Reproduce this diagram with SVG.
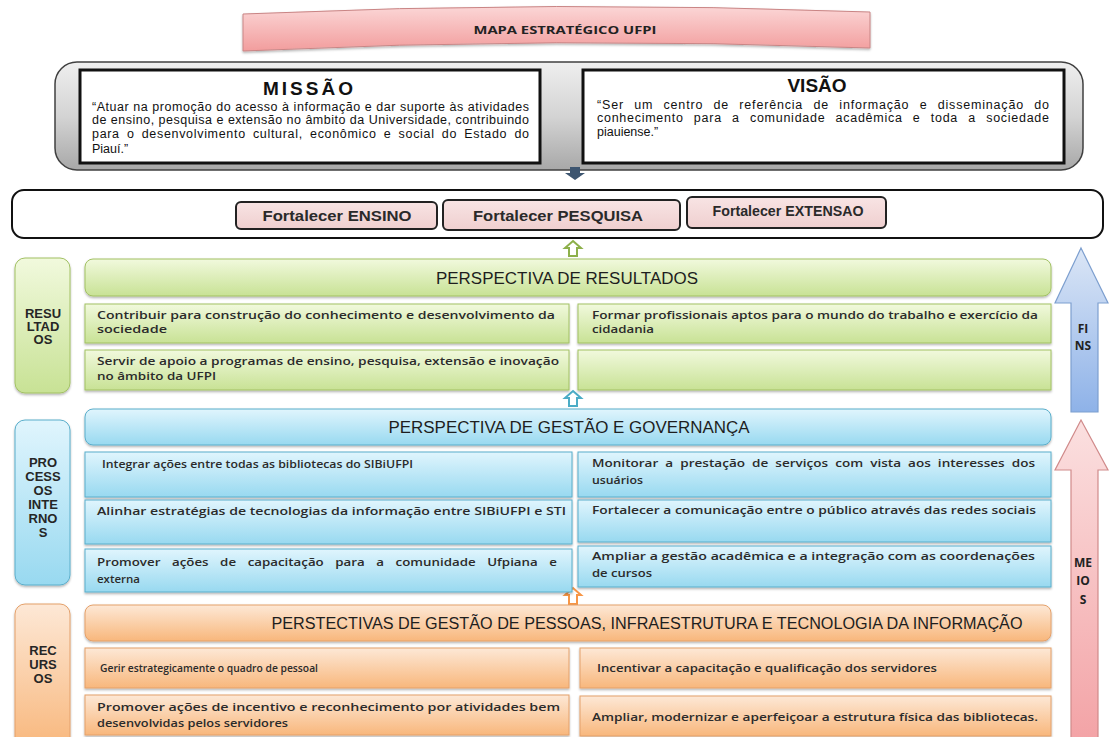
<svg xmlns="http://www.w3.org/2000/svg" width="1109" height="737" viewBox="0 0 1109 737">
<defs>
<linearGradient id="gPink" x1="0" y1="0" x2="0" y2="1"><stop offset="0" stop-color="#fbd6d6"/><stop offset="1" stop-color="#f29d9d"/></linearGradient>
<linearGradient id="gGray" x1="0" y1="0" x2="0" y2="1"><stop offset="0" stop-color="#efefef"/><stop offset="0.5" stop-color="#d4d4d4"/><stop offset="1" stop-color="#a8a8a8"/></linearGradient>
<linearGradient id="gGreen" x1="0" y1="0" x2="0" y2="1"><stop offset="0" stop-color="#f1f9dd"/><stop offset="1" stop-color="#c8e295"/></linearGradient>
<linearGradient id="gBlue" x1="0" y1="0" x2="0" y2="1"><stop offset="0" stop-color="#e0f5fd"/><stop offset="1" stop-color="#98d9f0"/></linearGradient>
<linearGradient id="gOrange" x1="0" y1="0" x2="0" y2="1"><stop offset="0" stop-color="#fde8d6"/><stop offset="1" stop-color="#f8b77c"/></linearGradient>
<linearGradient id="gBtn" x1="0" y1="0" x2="0" y2="1"><stop offset="0" stop-color="#f8e4e4"/><stop offset="1" stop-color="#efcfcf"/></linearGradient>
<linearGradient id="gFins" x1="0" y1="0" x2="0" y2="1"><stop offset="0" stop-color="#dbe6f6"/><stop offset="1" stop-color="#8eb2e8"/></linearGradient>
<linearGradient id="gMeios" x1="0" y1="0" x2="0" y2="1"><stop offset="0" stop-color="#fbe0e0"/><stop offset="1" stop-color="#f3a3a6"/></linearGradient>
<filter id="sh" x="-5%" y="-10%" width="110%" height="130%"><feDropShadow dx="0" dy="1.5" stdDeviation="1" flood-color="#000" flood-opacity="0.3"/></filter>
</defs>
<style>
.g{fill:url(#gGreen);stroke:#a2c163;stroke-width:1}
.b{fill:url(#gBlue);stroke:#5aaecb;stroke-width:1}
.o{fill:url(#gOrange);stroke:#e4a06a;stroke-width:1}
.t{font-family:"Open Sans","Liberation Sans",sans-serif;font-size:11.5px;font-weight:600;fill:#2b2b2b}
.s{font-size:10.5px}
.h{font-family:"Liberation Sans",Arial,sans-serif;font-size:16px;fill:#1e1e1e;text-anchor:middle}
.lab{font-family:"Liberation Sans",Arial,sans-serif;font-size:13px;font-weight:bold;fill:#262626;text-anchor:middle}
.m{font-family:"Liberation Sans",Arial,sans-serif;font-size:12.5px;fill:#111}
.mh{font-family:"Liberation Sans",Arial,sans-serif;font-size:19px;font-weight:bold;fill:#111;text-anchor:middle}
.btn{fill:url(#gBtn);stroke:#222;stroke-width:2}
.bt{font-family:"Liberation Sans",Arial,sans-serif;font-size:14px;font-weight:bold;fill:#2a2a2a;text-anchor:middle}
.ar{font-family:"Open Sans","Liberation Sans",sans-serif;font-size:12px;font-weight:700;fill:#222;text-anchor:middle}
</style>

<g id="title">
<path d="M243,14 Q556,0 870,12 L870,48 Q556,36 243,51 Z" fill="url(#gPink)" stroke="#c98585" stroke-width="1" filter="url(#sh)"/>
<text x="565" y="34" text-anchor="middle" font-family="'Open Sans','Liberation Sans',sans-serif" font-size="11" font-weight="700" fill="#222" textLength="183" lengthAdjust="spacingAndGlyphs">MAPA ESTRATÉGICO  UFPI</text>
</g>

<g id="missao-visao">
<rect x="55" y="62" width="1028" height="108" rx="22" fill="url(#gGray)" stroke="#404040" stroke-width="1.5"/>
</g>

<g id="missao">
<rect x="80" y="70" width="460" height="93" fill="#fff" stroke="#111" stroke-width="3"/>
<text class="mh" x="308" y="95" textLength="90" lengthAdjust="spacing">MISSÃO</text>
<text class="m" x="92" y="111" textLength="437" lengthAdjust="spacing">“Atuar na promoção do acesso à informação e dar suporte às atividades</text>
<text class="m" x="92" y="124" textLength="437" lengthAdjust="spacing">de ensino, pesquisa e extensão no âmbito da Universidade, contribuindo</text>
<text class="m" x="92" y="138" word-spacing="3" textLength="437" lengthAdjust="spacing">para o desenvolvimento cultural, econômico e social do Estado do</text>
<text class="m" x="92" y="153">Piauí.”</text>
</g>

<g id="visao">
<rect x="583" y="70" width="481" height="93" fill="#fff" stroke="#111" stroke-width="3"/>
<text class="mh" x="817" y="92">VISÃO</text>
<text class="m" x="597" y="109" word-spacing="6" textLength="452" lengthAdjust="spacing">“Ser um centro de referência de informação e disseminação do</text>
<text class="m" x="597" y="122" word-spacing="6" textLength="452" lengthAdjust="spacing">conhecimento para a comunidade acadêmica e toda a sociedade</text>
<text class="m" x="597" y="136">piauiense.”</text>
</g>

<g id="fortalecer">
<rect x="12" y="190" width="1091" height="48" rx="12" fill="#fff" stroke="#111" stroke-width="2"/>
</g>
<g id="ensino">
<rect class="btn" x="236" y="202" width="201" height="27" rx="5"/>
<text class="bt" x="337" y="221" textLength="149" lengthAdjust="spacingAndGlyphs">Fortalecer ENSINO</text>
</g>
<g id="pesquisa">
<rect class="btn" x="443" y="200" width="237" height="30" rx="5"/>
<text class="bt" x="558" y="221" textLength="170" lengthAdjust="spacingAndGlyphs">Fortalecer PESQUISA</text>
</g>
<g id="extensao">
<rect class="btn" x="687" y="197" width="199" height="31" rx="5"/>
<text class="bt" x="788" y="216" textLength="151" lengthAdjust="spacingAndGlyphs">Fortalecer EXTENSAO</text>
</g>

<g id="connectors">
<path d="M570,167 L580,167 L580,173 L585,173 L575,180 L565,173 L570,173 Z" fill="#3d5570"/>
<path d="M573,241 L581,248 L577,248 L577,256 L569,256 L569,248 L565,248 Z" fill="#fff" stroke="#8db04a" stroke-width="2"/>
<path d="M573,391 L581,398 L577,398 L577,406 L569,406 L569,398 L565,398 Z" fill="#fff" stroke="#4bacc6" stroke-width="2"/>
<path d="M573,588 L581,595 L577,595 L577,604 L569,604 L569,595 L565,595 Z" fill="#fff" stroke="#f79646" stroke-width="2"/>
</g>

<g id="resultados-label">
<rect class="g" x="15" y="258" width="55" height="135" rx="10" filter="url(#sh)"/>
<text class="lab" x="43" y="318">RESU</text>
<text class="lab" x="43" y="331">LTAD</text>
<text class="lab" x="43" y="344">OS</text>
</g>
<g id="perspectiva-resultados">
<rect class="g" x="85" y="259" width="966" height="37" rx="8" filter="url(#sh)"/>
<text class="h" x="567" y="284" textLength="262" lengthAdjust="spacingAndGlyphs">PERSPECTIVA DE RESULTADOS</text>
</g>
<g id="r1">
<rect class="g" x="85" y="304" width="484" height="39" filter="url(#sh)"/>
<text class="t" x="97" y="319" textLength="458" lengthAdjust="spacingAndGlyphs">Contribuir para construção do conhecimento e desenvolvimento da</text>
<text class="t" x="97" y="333" textLength="70" lengthAdjust="spacingAndGlyphs">sociedade</text>
</g>
<g id="r2">
<rect class="g" x="578" y="304" width="473" height="39" filter="url(#sh)"/>
<text class="t" x="592" y="319" textLength="446" lengthAdjust="spacingAndGlyphs">Formar profissionais aptos para o mundo do trabalho e exercício da</text>
<text class="t" x="592" y="333" textLength="62" lengthAdjust="spacingAndGlyphs">cidadania</text>
</g>
<g id="r3">
<rect class="g" x="85" y="350" width="484" height="40" filter="url(#sh)"/>
<text class="t" x="97" y="365" textLength="462" lengthAdjust="spacingAndGlyphs">Servir de apoio a programas de ensino, pesquisa, extensão e inovação</text>
<text class="t" x="97" y="380" textLength="119" lengthAdjust="spacingAndGlyphs">no âmbito da UFPI</text>
</g>
<g id="r4">
<rect class="g" x="578" y="350" width="473" height="40" filter="url(#sh)"/>
</g>

<g id="processos-label">
<rect class="b" x="15" y="420" width="55" height="165" rx="10" filter="url(#sh)"/>
<text class="lab" x="43" y="467">PRO</text>
<text class="lab" x="43" y="481">CESS</text>
<text class="lab" x="43" y="495">OS</text>
<text class="lab" x="43" y="509">INTE</text>
<text class="lab" x="43" y="523">RNO</text>
<text class="lab" x="43" y="537">S</text>
</g>
<g id="perspectiva-gestao">
<rect class="b" x="85" y="409" width="966" height="36" rx="8" filter="url(#sh)"/>
<text class="h" x="569" y="433" textLength="361" lengthAdjust="spacingAndGlyphs">PERSPECTIVA DE GESTÃO E GOVERNANÇA</text>
</g>
<g id="p1">
<rect class="b" x="85" y="452" width="487" height="45" filter="url(#sh)"/>
<text class="t s" x="102" y="468" textLength="311" lengthAdjust="spacingAndGlyphs">Integrar ações entre todas as bibliotecas do SIBiUFPI</text>
</g>
<g id="p2">
<rect class="b" x="578" y="452" width="473" height="45" filter="url(#sh)"/>
<text class="t" x="592" y="467" word-spacing="3" textLength="443" lengthAdjust="spacingAndGlyphs">Monitorar a prestação de serviços com vista aos interesses dos</text>
<text class="t" x="592" y="484" textLength="51" lengthAdjust="spacingAndGlyphs">usuários</text>
</g>
<g id="p3">
<rect class="b" x="85" y="500" width="487" height="44" filter="url(#sh)"/>
<text class="t" x="97" y="515" textLength="469" lengthAdjust="spacingAndGlyphs">Alinhar estratégias de tecnologias da informação entre SIBiUFPI e STI</text>
</g>
<g id="p4">
<rect class="b" x="578" y="500" width="473" height="42" filter="url(#sh)"/>
<text class="t" x="592" y="514" textLength="444" lengthAdjust="spacingAndGlyphs">Fortalecer a comunicação entre o público através das redes sociais</text>
</g>
<g id="p5">
<rect class="b" x="85" y="549" width="487" height="43" filter="url(#sh)"/>
<text class="t" x="97" y="566" word-spacing="7" textLength="460" lengthAdjust="spacingAndGlyphs">Promover ações de capacitação para a comunidade Ufpiana e</text>
<text class="t" x="97" y="583" textLength="43" lengthAdjust="spacingAndGlyphs">externa</text>
</g>
<g id="p6">
<rect class="b" x="578" y="546" width="473" height="41" filter="url(#sh)"/>
<text class="t" x="592" y="560" textLength="443" lengthAdjust="spacingAndGlyphs">Ampliar a gestão acadêmica e a integração com as coordenações</text>
<text class="t" x="592" y="577" textLength="60" lengthAdjust="spacingAndGlyphs">de cursos</text>
</g>

<g id="recursos-label">
<rect class="o" x="15" y="604" width="55" height="145" rx="10" filter="url(#sh)"/>
<text class="lab" x="43" y="655">REC</text>
<text class="lab" x="43" y="669">URS</text>
<text class="lab" x="43" y="683">OS</text>
</g>
<g id="perspectiva-pessoas">
<rect class="o" x="85" y="605" width="966" height="36" rx="8" filter="url(#sh)"/>
<text class="h" x="647" y="629" textLength="751" lengthAdjust="spacingAndGlyphs">PERSTECTIVAS DE GESTÃO DE PESSOAS, INFRAESTRUTURA E TECNOLOGIA DA INFORMAÇÃO</text>
</g>
<g id="k1">
<rect class="o" x="85" y="648" width="484" height="40" filter="url(#sh)"/>
<text class="t s" x="100" y="672" textLength="218" lengthAdjust="spacingAndGlyphs">Gerir estrategicamente o quadro de pessoal</text>
</g>
<g id="k2">
<rect class="o" x="580" y="648" width="471" height="40" filter="url(#sh)"/>
<text class="t s" x="597" y="672" textLength="340" lengthAdjust="spacingAndGlyphs">Incentivar a capacitação e qualificação dos servidores</text>
</g>
<g id="k3">
<rect class="o" x="85" y="695" width="484" height="40" filter="url(#sh)"/>
<text class="t" x="97" y="711" textLength="463" lengthAdjust="spacingAndGlyphs">Promover ações de incentivo e reconhecimento por atividades bem</text>
<text class="t" x="97" y="727" textLength="191" lengthAdjust="spacingAndGlyphs">desenvolvidas pelos servidores</text>
</g>
<g id="k4">
<rect class="o" x="580" y="696" width="471" height="40" filter="url(#sh)"/>
<text class="t" x="592" y="721" textLength="446" lengthAdjust="spacingAndGlyphs">Ampliar, modernizar e aperfeiçoar a estrutura física das bibliotecas.</text>
</g>

<g id="fins">
<path d="M1081,248 L1108,303 L1098,303 L1098,412 L1071,412 L1071,303 L1055,303 Z" fill="url(#gFins)" stroke="#7d9fcf" stroke-width="1.2"/>
<text class="ar" x="1083" y="333">FI</text>
<text class="ar" x="1083" y="350">NS</text>
</g>
<g id="meios">
<path d="M1081,420 L1108,470 L1098,470 L1098,740 L1071,740 L1071,470 L1055,470 Z" fill="url(#gMeios)" stroke="#d08a8a" stroke-width="1.2"/>
<text class="ar" x="1083" y="567">ME</text>
<text class="ar" x="1083" y="585">IO</text>
<text class="ar" x="1083" y="604">S</text>
</g>
</svg>
